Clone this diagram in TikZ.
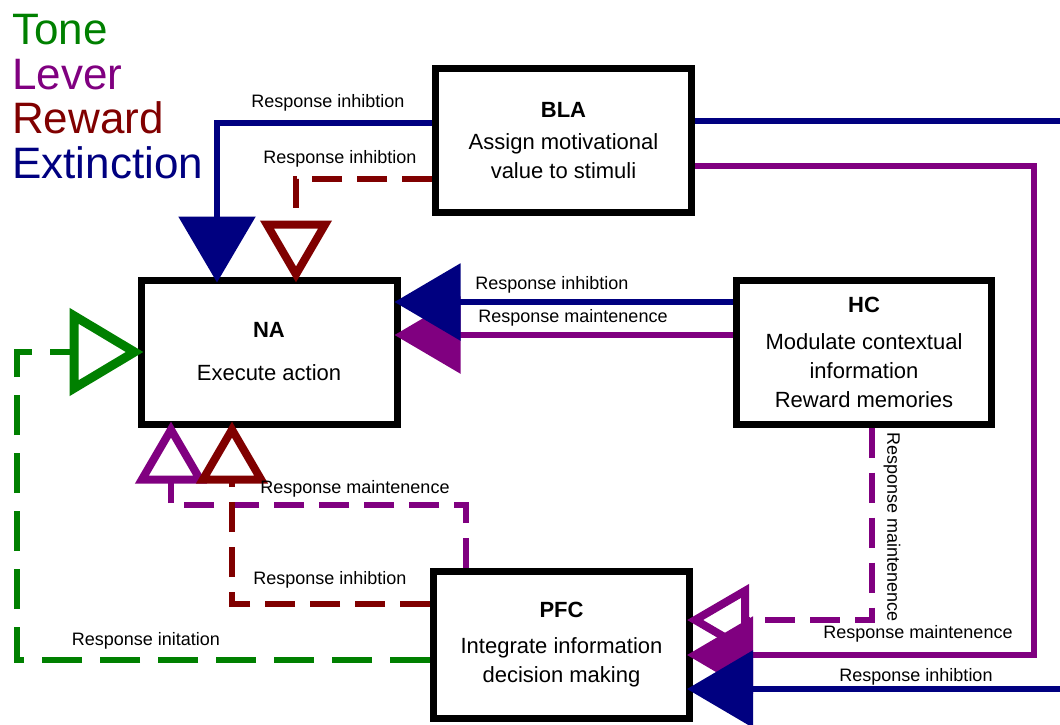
\documentclass[tikz,border=0pt]{standalone}
\usepackage{fontspec}
\setmainfont{Liberation Sans}
\usetikzlibrary{positioning,arrows.meta}

\definecolor{tone}{RGB}{0,128,0}
\definecolor{lever}{RGB}{128,0,128}
\definecolor{reward}{RGB}{128,0,0}
\definecolor{extinct}{RGB}{0,0,128}

\tikzset{
  region/.style={draw, line width=7pt, fill=white, minimum width=256pt, minimum height=144pt,
    align=center, font=\fontsize{22}{29}\selectfont},
  link/.style={line width=6pt},
  broken/.style={link, dash pattern=on 30pt off 15pt},
  full/.style={-{Triangle[length=66pt,width=76pt]}, shorten >=-6pt},
  hollow/.style={-{Triangle[open,line width=8pt,length=62pt,width=70pt]}, shorten >=-6pt},
  bighollow/.style={-{Triangle[open,line width=9pt,length=74pt,width=86pt]}, shorten >=-6pt},
  lbl/.style={font=\fontsize{18}{20}\selectfont, inner sep=1pt},
  legend/.style={anchor=base west, inner sep=0pt, font=\fontsize{44}{44}\selectfont}
}

\begin{document}
\begin{tikzpicture}[x=1pt,y=-1pt]
\useasboundingbox (0,0) rectangle (1060,725);
\clip (0,0) rectangle (1060,725);

% legend
\node[legend, text=tone] (tone) at (12,45) {Tone};
\node[legend, text=lever] (lever) at (12,89) {Lever};
\node[legend, text=reward] (rew) at (12,133) {Reward};
\node[legend, text=extinct] (ext) at (12,178) {Extinction};

% regions
\node[region] (BLA) at (563.5,140.5) {\textbf{BLA}\\[3pt]Assign motivational\\value to stimuli};
\node[region] (NA) at (269,352) {\textbf{NA}\\[14pt]Execute action};
\node[region, minimum width=255pt] (HC) at (864,352) {\textbf{HC}\\[8pt]Modulate contextual\\information\\Reward memories};
\node[region, minimum height=147pt] (PFC) at (561.5,645) {\textbf{PFC}\\[7pt]Integrate information\\decision making};
\coordinate (offtop) at (1100,121);
\coordinate (offbot) at (1100,689);

% BLA to NA
\draw[link, extinct, full] ([yshift=17.5pt]BLA.west) -| ([xshift=-52pt]NA.north);
\draw[broken, reward, hollow] ([yshift=-38.5pt]BLA.west) -| ([xshift=27pt]NA.north);
\node[lbl] (l1) at (328,103) {Response inhibtion};
\node[lbl] (l2) at (340,159) {Response inhibtion};

% HC to NA
\draw[link, lever, full] ([yshift=17pt]HC.west) -- ([yshift=17pt]HC.west -| NA.east);
\draw[link, extinct, full] ([yshift=50pt]HC.west) -- ([yshift=50pt]HC.west -| NA.east);
\node[lbl] (l3) at (552,285) {Response inhibtion};
\node[lbl] (l4) at (573,318) {Response maintenence};

% PFC to NA
\draw[broken, tone, bighollow, dash pattern=on 40pt off 18pt] ([yshift=-15pt]PFC.west) -- ++(-413,0) |- (NA.west);
\draw[broken, lever, hollow] ([xshift=-95.5pt]PFC.north) -- ++(0,-63) -| ([xshift=-98pt]NA.south);
\draw[broken, reward, hollow] ([yshift=41pt]PFC.west) -| ([xshift=-37pt]NA.south);
\node[lbl] (l5) at (146,641) {Response initation};
\node[lbl] (l6) at (355,489) {Response maintenence};
\node[lbl] (l7) at (330,580) {Response inhibtion};

% into PFC
\draw[broken, lever, hollow] ([xshift=8pt]HC.south) |- ([yshift=25pt]PFC.east);
\draw[link, lever, full] ([yshift=-25.5pt]BLA.east) -- ++(339,0) |- ([yshift=-10pt]PFC.east);
\draw[link, extinct, full] (offbot) -- (offbot -| PFC.east);
\draw[link, extinct] ([yshift=19.5pt]BLA.east) -- (offtop);
\node[lbl, rotate=-90] (l8) at (892,527) {Response maintenence};
\node[lbl] (l9) at (918,634) {Response maintenence};
\node[lbl] (l10) at (916,677) {Response inhibtion};
\end{tikzpicture}
\end{document}
